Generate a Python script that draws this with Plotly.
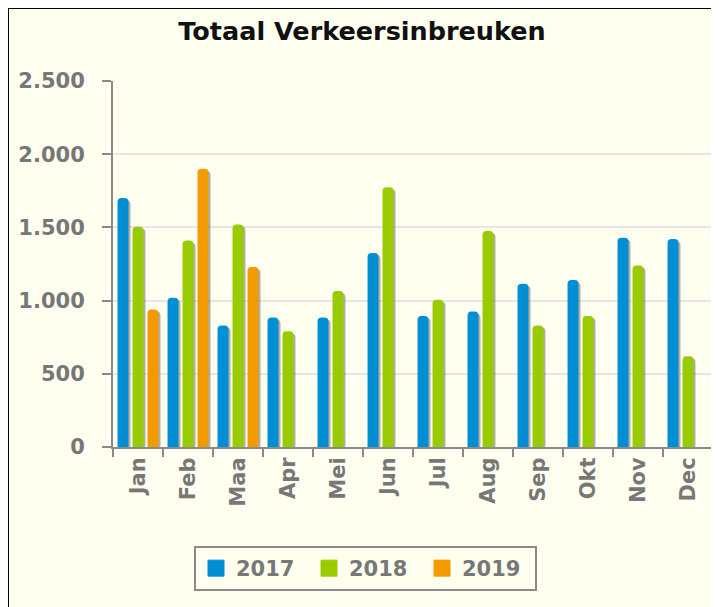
import plotly.graph_objects as go

months = ["Jan", "Feb", "Maa", "Apr", "Mei", "Jun", "Jul", "Aug", "Sep", "Okt", "Nov", "Dec"]
series_names = ["2017", "2018", "2019"]
values_2017 = [1700, 1020, 830, 885, 885, 1325, 895, 925, 1115, 1140, 1430, 1420]
values_2018 = [1505, 1410, 1520, 790, 1065, 1775, 1005, 1475, 830, 895, 1240, 620]
values_2019 = [940, 1900, 1230, None, None, None, None, None, None, None, None, None]
colors = ["#008fd5", "#99cc00", "#f39a00"]
y_ticks = [0, 500, 1000, 1500, 2000, 2500]

# page has an 8px body margin; figure fills the rest of the 719x607 window
W, H = 711, 599
ML, MR, MT, MB = 105, 6, 73, 160
PW = W - ML - MR
PH = H - MT - MB

def px_x(p):
    return (p - ML) / PW

def px_y(p):
    return (H - MB - p) / PH

BARGAP = 0.1
GROUPGAP = 0.27
n_series = 3
slot = (1 - BARGAP) / n_series
bar_w = slot * (1 - GROUPGAP)
shadow_shift = 2 / (PW / 12)      # 2 px in category units
shadow_drop = 14                  # value units the shadow sits lower

fig = go.Figure()
all_vals = [values_2017, values_2018, values_2019]

# soft grey shadows on the right of every bar
for i, (name, vals) in enumerate(zip(series_names, all_vals)):
    start = -(1 - BARGAP) / 2 + slot * i + (slot - bar_w) / 2
    fig.add_trace(go.Bar(
        x=months, y=vals, base=-shadow_drop, offsetgroup=name,
        offset=start + shadow_shift, width=bar_w,
        marker=dict(color="rgba(110,110,110,0.55)", line=dict(width=0)),
        showlegend=False, hoverinfo="skip"))

for name, vals, col in zip(series_names, all_vals, colors):
    fig.add_trace(go.Bar(x=months, y=vals, name=name, offsetgroup=name,
                         marker=dict(color=col, line=dict(width=0)), showlegend=False))

# legend entries (square swatches)
for name, col in zip(series_names, colors):
    fig.add_trace(go.Scatter(x=[None], y=[None], mode="markers", name=name,
                             marker=dict(symbol="square", size=16, color=col,
                                         line=dict(width=1, color=col))))

axis_col = "#8a8a8a"
label_font = dict(family="DejaVu Sans", size=21, color="#777777", weight="bold")

fig.update_layout(
    width=W, height=H,
    margin=dict(l=ML, r=MR, t=MT, b=MB, pad=0),
    paper_bgcolor="#fffff0",
    plot_bgcolor="rgba(0,0,0,0)",
    separators=",.",
    barmode="group",
    bargap=BARGAP,
    bargroupgap=GROUPGAP,
    barcornerradius=4,
    title=dict(text="<b>Totaal Verkeersinbreuken</b>", x=354 / W, xref="container", xanchor="center",
               y=1 - 23.5 / H, yref="container", yanchor="middle",
               font=dict(family="DejaVu Sans", size=25.5, color="#111111")),
    xaxis=dict(range=[-0.5, 11.5], tickson="boundaries", ticks="outside", ticklen=8, tickwidth=2,
               tickcolor=axis_col, showline=True, linecolor=axis_col, linewidth=2,
               showgrid=False, tickangle=-90, tickfont=label_font, fixedrange=True),
    yaxis=dict(range=[0, 2500], tickvals=y_ticks, tickformat=",d", ticks="outside", ticklen=9,
               tickwidth=2, tickcolor=axis_col, showline=True, linecolor=axis_col, linewidth=2,
               showgrid=True, gridcolor="#e6e6e6", gridwidth=2, zeroline=False,
               tickfont=label_font, ticklabelstandoff=13, fixedrange=True),
    legend=dict(orientation="h", x=px_x(357.5), xanchor="center", y=px_y(538), yanchor="top",
                bordercolor="#8a8a8a", borderwidth=2, bgcolor="rgba(0,0,0,0)",
                font=label_font, itemwidth=30, entrywidth=68),
    showlegend=True,
    shapes=[dict(type="rect", xref="paper", yref="paper", x0=px_x(0), x1=px_x(W + 10),
                 y0=px_y(H + 10), y1=px_y(0), line=dict(color="black", width=2),
                 fillcolor="rgba(0,0,0,0)", layer="above")],
)

fig.write_html("out.html")
